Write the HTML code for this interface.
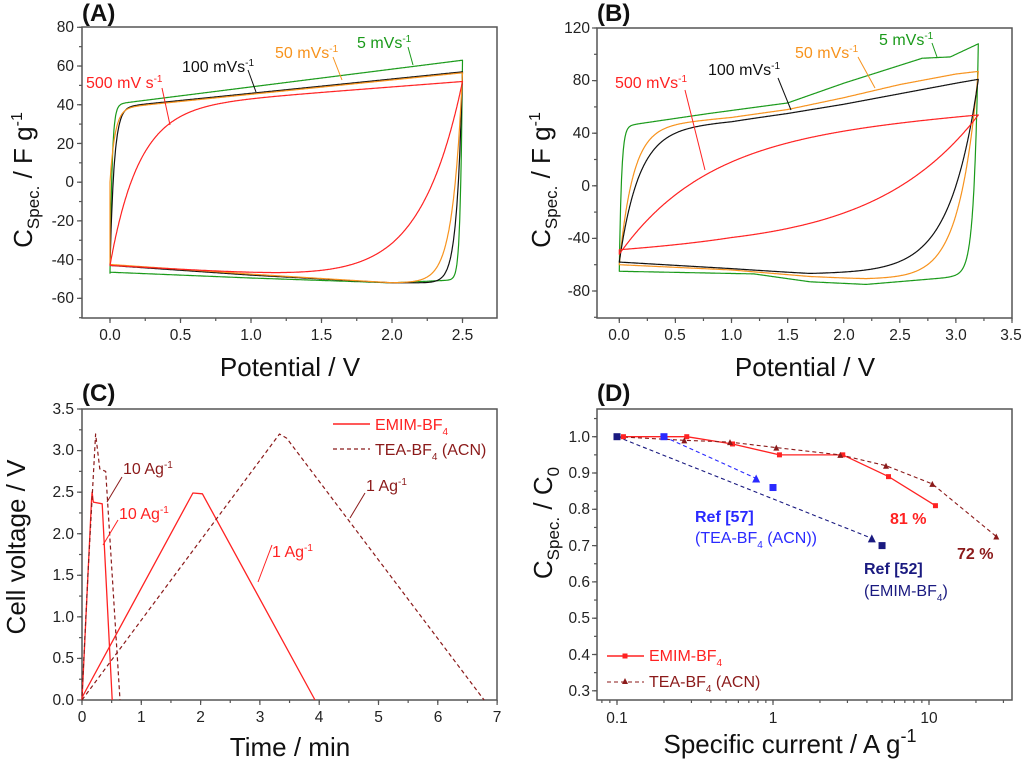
<!DOCTYPE html>
<html><head><meta charset="utf-8"><style>
body{margin:0;background:#fff;}
svg{display:block;font-family:"Liberation Sans",Arial,sans-serif;}
.tk{font-size:15.5px;fill:#222;}
.at{font-size:26px;fill:#111;}
.pt{font-size:24px;font-weight:bold;fill:#111;}
.lb{font-size:16px;}
</style></head><body>
<svg id="s" width="1024" height="763" viewBox="0 0 1024 763" xmlns="http://www.w3.org/2000/svg">
<g id="g"></g>
<text class="pt" x="82" y="21">(A)</text>
<text class="pt" x="597" y="21">(B)</text>
<text class="pt" x="82" y="401">(C)</text>
<text class="pt" x="597" y="401">(D)</text>

<g class="tk" text-anchor="end">
<text x="74" y="32">80</text><text x="74" y="71">60</text><text x="74" y="110">40</text><text x="74" y="149">20</text>
<text x="74" y="187">0</text><text x="74" y="226">-20</text><text x="74" y="265">-40</text><text x="74" y="303">-60</text>
</g>
<g class="tk" text-anchor="middle">
<text x="110" y="340">0.0</text><text x="180.5" y="340">0.5</text><text x="251" y="340">1.0</text>
<text x="321.5" y="340">1.5</text><text x="392" y="340">2.0</text><text x="462.5" y="340">2.5</text>
</g>
<text class="at" x="290" y="376" text-anchor="middle">Potential / V</text>
<text class="at" transform="translate(32,180) rotate(-90)" text-anchor="middle">C<tspan font-size="17" dy="7">Spec.</tspan><tspan dy="-7"> / F g</tspan><tspan font-size="16" dy="-10">-1</tspan></text>

<g class="tk" text-anchor="end">
<text x="590" y="33">120</text><text x="590" y="85">80</text><text x="590" y="138">40</text><text x="590" y="191">0</text>
<text x="590" y="243">-40</text><text x="590" y="296">-80</text>
</g>
<g class="tk" text-anchor="middle">
<text x="619" y="340">0.0</text><text x="675" y="340">0.5</text><text x="731.5" y="340">1.0</text><text x="788" y="340">1.5</text>
<text x="844" y="340">2.0</text><text x="900" y="340">2.5</text><text x="956" y="340">3.0</text><text x="1011" y="340">3.5</text>
</g>
<text class="at" x="805" y="376" text-anchor="middle">Potential / V</text>
<text class="at" transform="translate(550,180) rotate(-90)" text-anchor="middle">C<tspan font-size="17" dy="7">Spec.</tspan><tspan dy="-7"> / F g</tspan><tspan font-size="16" dy="-10">-1</tspan></text>

<g class="tk" text-anchor="end">
<text x="74" y="414">3.5</text><text x="74" y="455">3.0</text><text x="74" y="497">2.5</text><text x="74" y="539">2.0</text>
<text x="74" y="580">1.5</text><text x="74" y="622">1.0</text><text x="74" y="663">0.5</text><text x="74" y="705">0.0</text>
</g>
<g class="tk" text-anchor="middle">
<text x="82" y="722">0</text><text x="141.3" y="722">1</text><text x="200.6" y="722">2</text><text x="260" y="722">3</text>
<text x="319" y="722">4</text><text x="378.5" y="722">5</text><text x="438" y="722">6</text><text x="497" y="722">7</text>
</g>
<text class="at" x="290" y="756" text-anchor="middle">Time / min</text>
<text class="at" transform="translate(25,547) rotate(-90)" text-anchor="middle">Cell voltage / V</text>

<g class="tk" text-anchor="end">
<text x="590" y="442">1.0</text><text x="590" y="478">0.9</text><text x="590" y="514">0.8</text><text x="590" y="551">0.7</text>
<text x="590" y="587">0.6</text><text x="590" y="623">0.5</text><text x="590" y="660">0.4</text><text x="590" y="696">0.3</text>
</g>
<g class="tk" text-anchor="middle">
<text x="617" y="723">0.1</text><text x="773" y="723">1</text><text x="929" y="723">10</text>
</g>
<text class="at" x="790" y="753" text-anchor="middle">Specific current / A g<tspan font-size="18" dy="-11">-1</tspan></text>
<text class="at" transform="translate(552,523) rotate(-90)" text-anchor="middle">C<tspan font-size="17" dy="7">Spec.</tspan><tspan dy="-7"> / C</tspan><tspan font-size="17" dy="7">0</tspan></text>

<g class="lb">
<text x="357" y="48" fill="#1a9a1a">5 mVs<tspan font-size="10" dy="-6">-1</tspan></text>
<text x="275" y="58" fill="#f7931e">50 mVs<tspan font-size="10" dy="-6">-1</tspan></text>
<text x="182" y="72" fill="#111">100 mVs<tspan font-size="10" dy="-6">-1</tspan></text>
<text x="86" y="88" fill="#f22">500 mV s<tspan font-size="10" dy="-6">-1</tspan></text>
<text x="879" y="45" fill="#1a9a1a">5 mVs<tspan font-size="10" dy="-6">-1</tspan></text>
<text x="795" y="58" fill="#f7931e">50 mVs<tspan font-size="10" dy="-6">-1</tspan></text>
<text x="708" y="75" fill="#111">100 mVs<tspan font-size="10" dy="-6">-1</tspan></text>
<text x="615" y="88" fill="#f22">500 mVs<tspan font-size="10" dy="-6">-1</tspan></text>
<text x="123" y="474" fill="#8b1a1a">10 Ag<tspan font-size="10" dy="-6">-1</tspan></text>
<text x="119" y="519" fill="#f22">10 Ag<tspan font-size="10" dy="-6">-1</tspan></text>
<text x="272" y="557" fill="#f22">1 Ag<tspan font-size="10" dy="-6">-1</tspan></text>
<text x="366" y="491" fill="#8b1a1a">1 Ag<tspan font-size="10" dy="-6">-1</tspan></text>
<text x="375" y="430" fill="#f22">EMIM-BF<tspan font-size="10" dy="5">4</tspan></text>
<text x="375" y="455" fill="#8b1a1a">TEA-BF<tspan font-size="10" dy="5">4</tspan><tspan dy="-5"> (ACN)</tspan></text>
<text x="695" y="522" fill="#2a2aff" font-weight="bold">Ref [57]</text>
<text x="695" y="543" fill="#2a2aff">(TEA-BF<tspan font-size="10" dy="5">4</tspan><tspan dy="-5"> (ACN))</tspan></text>
<text x="890" y="524" fill="#f22" font-weight="bold">81 %</text>
<text x="957" y="559" fill="#8b1a1a" font-weight="bold">72 %</text>
<text x="864" y="574" fill="#1a1a80" font-weight="bold">Ref [52]</text>
<text x="864" y="596" fill="#1a1a80">(EMIM-BF<tspan font-size="10" dy="5">4</tspan><tspan dy="-5">)</tspan></text>
<text x="649" y="661" fill="#f22">EMIM-BF<tspan font-size="10" dy="5">4</tspan></text>
<text x="649" y="687" fill="#8b1a1a">TEA-BF<tspan font-size="10" dy="5">4</tspan><tspan dy="-5"> (ACN)</tspan></text>
</g>
</svg>
<script>
var g=document.getElementById('g'),NS='http://www.w3.org/2000/svg';
function el(t,a){var e=document.createElementNS(NS,t);for(var k in a)e.setAttribute(k,a[k]);g.appendChild(e);return e;}
function line(x1,y1,x2,y2,c,w,da){var a={x1:x1,y1:y1,x2:x2,y2:y2,stroke:c,'stroke-width':w||1};if(da)a['stroke-dasharray']=da;el('line',a);}
function path(pts,c,w,da,close){var d='M'+pts.map(function(p){return p[0].toFixed(1)+','+p[1].toFixed(1)}).join('L')+(close?'Z':'');var a={d:d,fill:'none',stroke:c,'stroke-width':w||1.2,'stroke-linejoin':'round'};if(da)a['stroke-dasharray']=da;el('path',a);}
function pl(arr){return function(x){for(var i=0;i<arr.length-1;i++){if(x<=arr[i+1][0]){var t=(x-arr[i][0])/(arr[i+1][0]-arr[i][0]);return arr[i][1]+t*(arr[i+1][1]-arr[i][1]);}}return arr[arr.length-1][1];}}
function box(l,t,r,b){el('rect',{x:l,y:t,width:r-l,height:b-t,fill:'none',stroke:'#555','stroke-width':1.5});}
function yt(l,ys,len){ys.forEach(function(y){line(l-len,y,l,y,'#555',1.2);});}
function xt(b,xs,len){xs.forEach(function(x){line(x,b,x,b+len,'#555',1.2);});}
function rng(a,b,s){var r=[];for(var v=a;v<=b+1e-9;v+=s)r.push(v);return r;}
function cv(X,Y,Vm,L,start,tf,Lb,tr,c){var end=L(Vm)-(L(Vm)-start)*Math.exp(-Vm/tf);var p=[];
for(var x=0;x<=Vm+1e-9;x+=0.004){p.push([X(x),Y(L(x)-(L(x)-start)*Math.exp(-x/tf))]);}
for(var x=Vm;x>=-1e-9;x-=0.004){p.push([X(x),Y(Lb(x)+(end-Lb(x))*Math.exp(-(Vm-x)/tr))]);}
path(p,c,1.2,null,true);}
var AX=function(x){return 110+x*141},AY=function(v){return 27.3+(80-v)*1.936};
box(82,27,497,318);
yt(82,rng(-70,80,10).map(AY),3);yt(82,rng(-60,80,20).map(AY),5);
xt(318,rng(-0.25,2.75,0.25).map(AX).filter(function(x){return x>82&&x<497}),3);xt(318,rng(0,2.5,0.5).map(AX),5);
cv(AX,AY,2.5,function(x){return 40+9.2*x},-47,0.015,pl([[0,-46.5],[1,-49.5],[2,-52],[2.45,-50.5],[2.5,-49]]),0.015,'#1a9a1a');
cv(AX,AY,2.5,function(x){return 38.5+7.4*x},-43,0.03,pl([[0,-43],[1,-48],[2,-52],[2.5,-52]]),0.04,'#111');
cv(AX,AY,2.5,function(x){return 38+7.4*x},0,0.035,pl([[0,-42.5],[1,-47.5],[2,-52],[2.5,-52]]),0.07,'#f7931e');
cv(AX,AY,2.5,function(x){return 38+5.6*x},-43,0.2,pl([[0,-43],[1.2,-48],[2,-51],[2.5,-52]]),0.3,'#f22');
line(408,47,413,65,'#1a9a1a');line(333,57,342,80,'#f7931e');line(248,70,256,92,'#111');line(162,88,170,125,'#f22');
var BX=function(x){return 619.3+x*112.2},BY=function(v){return 28+(120-v)*1.315};
box(597,28,1012,318);
yt(597,rng(-100,120,20).map(BY),3);yt(597,rng(-80,120,40).map(BY),5);
xt(318,rng(-0.25,3.5,0.25).map(BX).filter(function(x){return x>597&&x<1013}),3);xt(318,rng(0,3.5,0.5).map(BX),5);
cv(BX,BY,3.2,pl([[0,45],[0.8,55],[1.5,63],[2,78],[2.7,97],[2.95,98],[3.2,108]]),-65,0.02,pl([[0,-65],[1.2,-67],[1.7,-73],[2.2,-75],[2.9,-70],[3.2,-67]]),0.04,'#1a9a1a');
cv(BX,BY,3.2,pl([[0,44],[1,52],[1.5,58],[2,67],[2.5,77],[3,85],[3.2,87]]),-60,0.12,pl([[0,-60],[1,-64],[1.7,-69],[2.2,-71],[3.2,-71]]),0.17,'#f7931e');
cv(BX,BY,3.2,pl([[0,42],[1,49],[1.5,55],[2,62],[2.5,70],[3,78],[3.2,81]]),-58,0.17,pl([[0,-58],[1,-63],[1.7,-67],[3.2,-66]]),0.25,'#111');
cv(BX,BY,3.2,function(x){return 36+6*x},-52,0.73,pl([[0,-52],[1,-49],[3.2,-49]]),0.93,'#f22');
line(932,43,937,57,'#1a9a1a');line(858,57,875,88,'#f7931e');line(778,78,791,110,'#111');line(685,90,705,170,'#f22');
var CX=function(t){return 82+t*59.3},CY=function(v){return 700-v*83.14};
box(82,409,497,700);
yt(82,rng(0,3.5,0.25).map(CY),3);yt(82,rng(0,3.5,0.5).map(CY),5);
xt(700,rng(0,7,0.5).map(CX),3);xt(700,rng(0,7,1).map(CX),5);
function C(arr){return arr.map(function(p){return [CX(p[0]),CY(p[1])]})}
path(C([[0,0],[0.16,2.4],[0.17,2.5],[0.19,2.38],[0.34,2.36],[0.51,0]]),'#f22',1.3);
path(C([[0,0.03],[1.87,2.49],[2.03,2.48],[3.93,0]]),'#f22',1.3);
path(C([[0,0.05],[0.1,1.5],[0.23,3.2],[0.3,2.78],[0.4,2.75],[0.64,0]]),'#8b1a1a',1.2,'4,3');
path(C([[0,0],[3.33,3.2],[3.45,3.15],[6.78,0]]),'#8b1a1a',1.2,'4,3');
line(122,477,107,502,'#8b1a1a');line(118,520,103,545,'#f22');line(272,545,258,582,'#f22');line(365,493,350,518,'#8b1a1a');
line(333,424,370,424,'#f22',1.4);line(333,449,370,449,'#8b1a1a',1.2,'4,3');
var DX=function(c){return 617+(Math.log10(c)+1)*156},DY=function(v){return 436.7-(v-1)*363};
box(597,409,1012,700);
yt(597,rng(0.3,1.05,0.05).map(DY),3);yt(597,rng(0.3,1.0,0.1).map(DY),5);
var mt=[];[0.1,1,10].forEach(function(d){for(var k=1;k<10;k++){var v=d*k;if(v<=34&&v>=0.08)mt.push(DX(v));}});mt.push(DX(0.08),DX(0.09));
xt(700,mt.filter(function(x){return x>597}),3);xt(700,[DX(0.1),DX(1),DX(10)],5);
function D(arr){return arr.map(function(p){return [DX(p[0]),DY(p[1])]})}
var e=[[0.11,1.0],[0.28,1.0],[0.55,0.98],[1.1,0.95],[2.8,0.95],[5.5,0.89],[11,0.81]];
var t=[[0.1,1.0],[0.27,0.99],[0.53,0.985],[1.05,0.97],[2.7,0.95],[5.3,0.92],[10.5,0.87],[27,0.725]];
path(D(e),'#f22',1.3);path(D(t),'#8b1a1a',1.1,'4,3');
path(D([[0.2,1.0],[0.78,0.885]]),'#2a2aff',1.1,'4,3');path(D([[0.1,1.0],[4.3,0.72]]),'#1a1a80',1.1,'4,3');
function sq(x,y,s,c){el('rect',{x:x-s/2,y:y-s/2,width:s,height:s,fill:c});}
function tri(x,y,s,c){el('path',{d:'M'+x+','+(y-s/2)+'L'+(x+s/2)+','+(y+s/2)+'L'+(x-s/2)+','+(y+s/2)+'Z',fill:c});}
D(e).forEach(function(p){sq(p[0],p[1],5,'#f22')});
D(t).slice(1).forEach(function(p){tri(p[0],p[1],6,'#8b1a1a')});
sq(DX(0.2),DY(1.0),7,'#2a2aff');tri(DX(0.78),DY(0.885),8,'#2a2aff');sq(DX(1.0),DY(0.86),7,'#2a2aff');
sq(DX(0.1),DY(1.0),7,'#1a1a80');tri(DX(4.3),DY(0.72),8,'#1a1a80');sq(DX(5),DY(0.70),7,'#1a1a80');
line(607,656,644,656,'#f22',1.4);sq(625,656,5,'#f22');
line(607,682,644,682,'#8b1a1a',1.1,'4,3');tri(625,681,6,'#8b1a1a');
</script>
</body></html>
